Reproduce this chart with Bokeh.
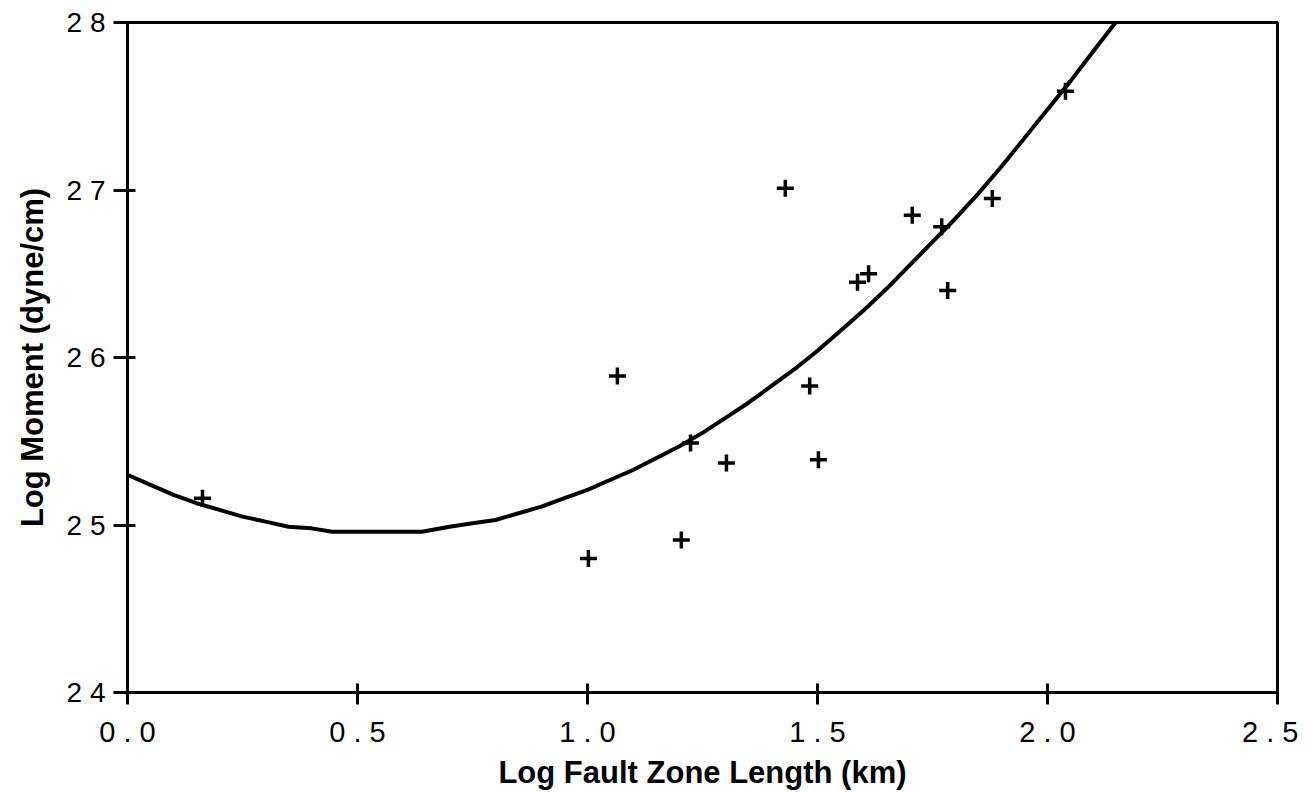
from bokeh.plotting import figure
from bokeh.models import FixedTicker, Range1d
from bokeh.embed import file_html
from bokeh.resources import INLINE

# Observed data (log fault zone length, log moment)
fault_length = [0.163, 1.002, 1.065, 1.204, 1.224, 1.302, 1.430, 1.483, 1.502,
                1.587, 1.611, 1.706, 1.770, 1.783, 1.880, 2.039]
log_moment = [25.16, 24.80, 25.89, 24.91, 25.49, 25.37, 27.01, 25.83, 25.39,
              26.45, 26.50, 26.85, 26.78, 26.40, 26.95, 27.59]

# Fitted curve
curve_x = [0.0, 0.05, 0.1, 0.15, 0.2, 0.25, 0.3, 0.35, 0.4, 0.445, 0.64, 0.7,
           0.75, 0.8, 0.85, 0.9, 0.95, 1.0, 1.05, 1.1, 1.15, 1.2, 1.25, 1.3,
           1.35, 1.4, 1.45, 1.5, 1.55, 1.6, 1.65, 1.7, 1.75, 1.8, 1.85, 1.9,
           1.95, 2.0, 2.05, 2.1, 2.148]
curve_y = [25.30, 25.24, 25.18, 25.13, 25.09, 25.05, 25.02, 24.99, 24.98, 24.96,
           24.96, 24.99, 25.01, 25.03, 25.07, 25.11, 25.16, 25.21, 25.27, 25.33,
           25.40, 25.47, 25.55, 25.64, 25.73, 25.83, 25.93, 26.04, 26.16, 26.28,
           26.41, 26.55, 26.69, 26.83, 26.98, 27.14, 27.31, 27.48, 27.65, 27.83,
           28.00]

x_ticks = [0.0, 0.5, 1.0, 1.5, 2.0, 2.5]
x_tick_labels = ["0 . 0", "0 . 5", "1 . 0", "1 . 5", "2 . 0", "2 . 5"]
y_ticks = [24, 25, 26, 27, 28]
y_tick_labels = ["2 4", "2 5", "2 6", "2 7", "2 8"]

p = figure(width=1298, height=784, output_backend="svg", toolbar_location=None,
           x_range=Range1d(0, 2.5), y_range=Range1d(24, 28),
           frame_width=1150, frame_height=670,
           min_border_left=127, min_border_top=22, min_border_right=21,
           min_border_bottom=92)

p.line(curve_x, curve_y, line_color="black", line_width=4)
p.scatter(fault_length, log_moment, marker="cross", size=17, line_color="black",
          line_width=3.5)

p.grid.visible = False
p.outline_line_color = "black"
p.outline_line_width = 3
p.outline_line_alpha = 1

for ax in (p.xaxis[0], p.yaxis[0]):
    ax.axis_line_width = 3
    ax.axis_line_color = "black"
    ax.major_tick_line_width = 3
    ax.major_tick_line_color = "black"
    ax.minor_tick_line_color = None
    ax.major_label_text_font = "Liberation Sans"
    ax.major_label_text_color = "black"
    ax.axis_label_text_font = "Liberation Sans"
    ax.axis_label_text_font_style = "bold"
    ax.axis_label_text_font_size = "31px"
    ax.axis_label_text_color = "black"

p.xaxis[0].ticker = FixedTicker(ticks=x_ticks)
p.xaxis[0].major_label_overrides = {t: l for t, l in zip(x_ticks, x_tick_labels)}
p.xaxis[0].major_label_text_font_size = "29px"
p.xaxis[0].major_tick_in = 9
p.xaxis[0].major_tick_out = 12
p.xaxis[0].major_label_standoff = 11
p.xaxis[0].axis_label = "Log Fault Zone Length (km)"
p.xaxis[0].axis_label_standoff = 4

p.yaxis[0].ticker = FixedTicker(ticks=y_ticks)
p.yaxis[0].major_label_overrides = {t: l for t, l in zip(y_ticks, y_tick_labels)}
p.yaxis[0].major_label_text_font_size = "28px"
p.yaxis[0].major_tick_in = 8
p.yaxis[0].major_tick_out = 14
p.yaxis[0].major_label_standoff = 8
p.yaxis[0].axis_label = "Log Moment (dyne/cm)"
p.yaxis[0].axis_label_standoff = 14

open("out.html", "w").write(file_html(p, INLINE))
